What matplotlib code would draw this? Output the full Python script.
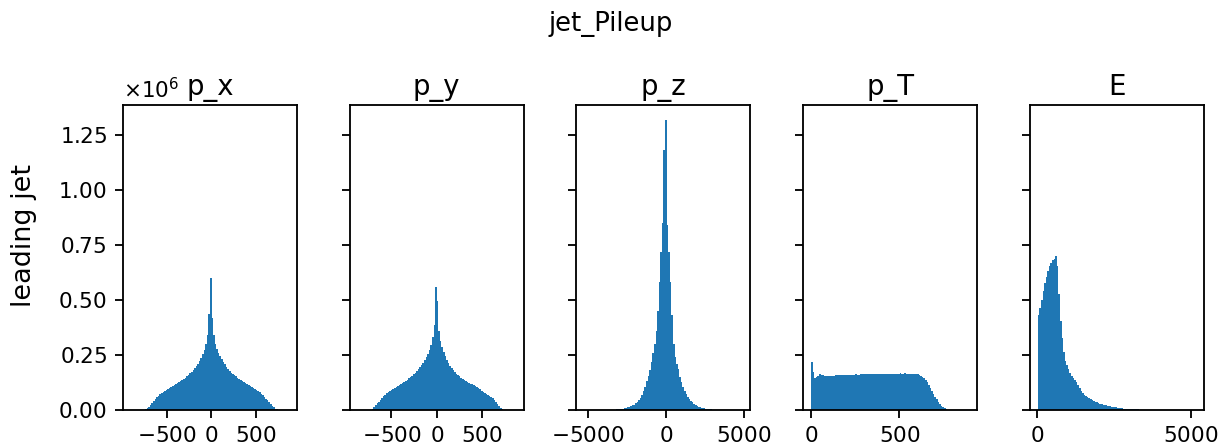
import numpy as np
import matplotlib
matplotlib.use('Agg')
from matplotlib import pyplot as plt
from matplotlib.ticker import MultipleLocator

# histogram counts per bin, in units of 1e6 (100 bins per panel)
px_counts = [
    0, 0, 0, 0, 0, 0, 0, 0, 0.001, 0.004,
    0.008, 0.015, 0.024, 0.032, 0.040, 0.050, 0.058, 0.065, 0.071, 0.076,
    0.081, 0.087, 0.091, 0.095, 0.100, 0.103, 0.107, 0.112, 0.117, 0.121,
    0.125, 0.130, 0.135, 0.141, 0.147, 0.153, 0.159, 0.166, 0.173, 0.181,
    0.190, 0.200, 0.210, 0.221, 0.235, 0.254, 0.272, 0.298, 0.340, 0.436,
    0.598, 0.418, 0.340, 0.300, 0.276, 0.258, 0.245, 0.232, 0.220, 0.208,
    0.196, 0.187, 0.178, 0.170, 0.163, 0.158, 0.153, 0.147, 0.142, 0.135,
    0.130, 0.126, 0.121, 0.117, 0.113, 0.109, 0.104, 0.100, 0.095, 0.090,
    0.085, 0.080, 0.074, 0.066, 0.058, 0.051, 0.044, 0.036, 0.028, 0.019,
    0.011, 0.005, 0.002, 0, 0, 0, 0, 0, 0, 0,
]
py_counts = [
    0, 0, 0, 0, 0, 0, 0, 0, 0.001, 0.004,
    0.012, 0.022, 0.030, 0.037, 0.046, 0.055, 0.063, 0.070, 0.075, 0.080,
    0.087, 0.091, 0.095, 0.100, 0.104, 0.109, 0.113, 0.118, 0.122, 0.127,
    0.132, 0.137, 0.143, 0.148, 0.155, 0.161, 0.169, 0.176, 0.184, 0.193,
    0.203, 0.214, 0.225, 0.240, 0.253, 0.274, 0.295, 0.330, 0.388, 0.558,
    0.494, 0.357, 0.315, 0.285, 0.262, 0.246, 0.228, 0.213, 0.200, 0.190,
    0.181, 0.172, 0.164, 0.157, 0.152, 0.147, 0.142, 0.138, 0.133, 0.129,
    0.124, 0.120, 0.116, 0.112, 0.107, 0.103, 0.098, 0.093, 0.088, 0.083,
    0.078, 0.073, 0.068, 0.064, 0.060, 0.053, 0.045, 0.036, 0.027, 0.018,
    0.010, 0.003, 0.001, 0, 0, 0, 0, 0, 0, 0,
]
pz_counts = [
    0, 0, 0, 0, 0, 0, 0, 0, 0, 0,
    0, 0, 0, 0, 0, 0, 0, 0, 0, 0,
    0.002, 0.003, 0.004, 0.005, 0.006, 0.007, 0.009, 0.011, 0.014, 0.016,
    0.020, 0.024, 0.030, 0.037, 0.044, 0.055, 0.068, 0.085, 0.104, 0.130,
    0.155, 0.183, 0.220, 0.260, 0.300, 0.360, 0.450, 0.580, 0.720, 0.850,
    1.180, 1.320, 0.840, 0.720, 0.580, 0.430, 0.300, 0.240, 0.210, 0.185,
    0.150, 0.125, 0.103, 0.088, 0.072, 0.060, 0.050, 0.042, 0.034, 0.028,
    0.023, 0.019, 0.015, 0.012, 0.010, 0.008, 0.006, 0.005, 0.004, 0.003,
    0.002, 0.0015, 0.001, 0.0005, 0, 0, 0, 0, 0, 0,
    0, 0, 0, 0, 0, 0, 0, 0, 0, 0,
]
pt_counts = [
    0.219, 0.172, 0.146, 0.148, 0.155, 0.163, 0.160, 0.157, 0.155, 0.154,
    0.154, 0.155, 0.155, 0.156, 0.156, 0.157, 0.158, 0.158, 0.157, 0.158,
    0.159, 0.159, 0.158, 0.159, 0.160, 0.160, 0.159, 0.160, 0.161, 0.160,
    0.160, 0.161, 0.161, 0.162, 0.162, 0.162, 0.163, 0.164, 0.164, 0.164,
    0.165, 0.164, 0.164, 0.164, 0.165, 0.164, 0.164, 0.164, 0.165, 0.164,
    0.164, 0.164, 0.165, 0.164, 0.163, 0.164, 0.166, 0.163, 0.164, 0.166,
    0.163, 0.164, 0.165, 0.164, 0.164, 0.163, 0.163, 0.162, 0.160, 0.156,
    0.150, 0.143, 0.135, 0.125, 0.114, 0.100, 0.088, 0.074, 0.060, 0.048,
    0.037, 0.027, 0.019, 0.012, 0.007, 0.003, 0.001, 0, 0, 0,
    0, 0, 0, 0, 0, 0, 0, 0, 0, 0,
]
e_counts = [
    0.433, 0.462, 0.500, 0.540, 0.575, 0.603, 0.632, 0.655, 0.668, 0.680,
    0.688, 0.698, 0.655, 0.525, 0.405, 0.325, 0.265, 0.222, 0.205, 0.185,
    0.168, 0.155, 0.145, 0.135, 0.125, 0.112, 0.100, 0.088, 0.078, 0.070,
    0.064, 0.059, 0.054, 0.050, 0.046, 0.042, 0.038, 0.035, 0.032, 0.029,
    0.027, 0.024, 0.022, 0.020, 0.018, 0.016, 0.014, 0.013, 0.012, 0.011,
    0.010, 0.009, 0.008, 0.007, 0.006, 0.0055, 0.005, 0.0045, 0.004, 0.0035,
    0.003, 0.0027, 0.0024, 0.002, 0.0018, 0.0016, 0.0014, 0.0012, 0.001, 0.0009,
    0.0008, 0.0007, 0.0006, 0.0005, 0.0004, 0.0004, 0.0003, 0.0003, 0.0002, 0.0002,
    0.0001, 0.0001, 0.0001, 0.0001, 0, 0, 0, 0, 0, 0,
    0, 0, 0, 0, 0, 0, 0, 0, 0, 0,
]

# histogram ranges (min, max of each variable)
ranges = [(-904, 871), (-875, 875), (-5230, 4900), (0, 895), (10, 5165)]
titles = ['p_x', 'p_y', 'p_z', 'p_T', 'E']
x_steps = [500, 500, 5000, 500, 5000]
all_counts = [px_counts, py_counts, pz_counts, pt_counts, e_counts]

plt.rcParams['axes.formatter.use_mathtext'] = True
plt.rcParams['xtick.labelsize'] = 9.4
plt.rcParams['ytick.labelsize'] = 9.4

DPI = 165
fig, axes = plt.subplots(1, 5, sharey=True, figsize=(1221 / DPI, 447 / DPI), dpi=DPI)
fig.subplots_adjust(left=0.1007, right=0.986, top=0.765, bottom=0.083, wspace=0.303)
fig.suptitle('jet_Pileup', fontsize=11.3, y=0.975)

for ax, counts, (lo, hi), name, step in zip(axes, all_counts, ranges, titles, x_steps):
    edges = np.linspace(lo, hi, len(counts) + 1)
    centers = 0.5 * (edges[:-1] + edges[1:])
    ax.hist(centers, bins=edges, weights=np.array(counts) * 1e6)
    ax.set_title(name, fontsize=12, pad=4.3)
    ax.xaxis.set_major_locator(MultipleLocator(step))

axes[0].yaxis.set_major_locator(MultipleLocator(0.25e6))
fig.text(0.0197, 0.474, 'leading jet', rotation=90, ha='center', va='center', fontsize=11.8)

fig.savefig('out.png', dpi=DPI)
